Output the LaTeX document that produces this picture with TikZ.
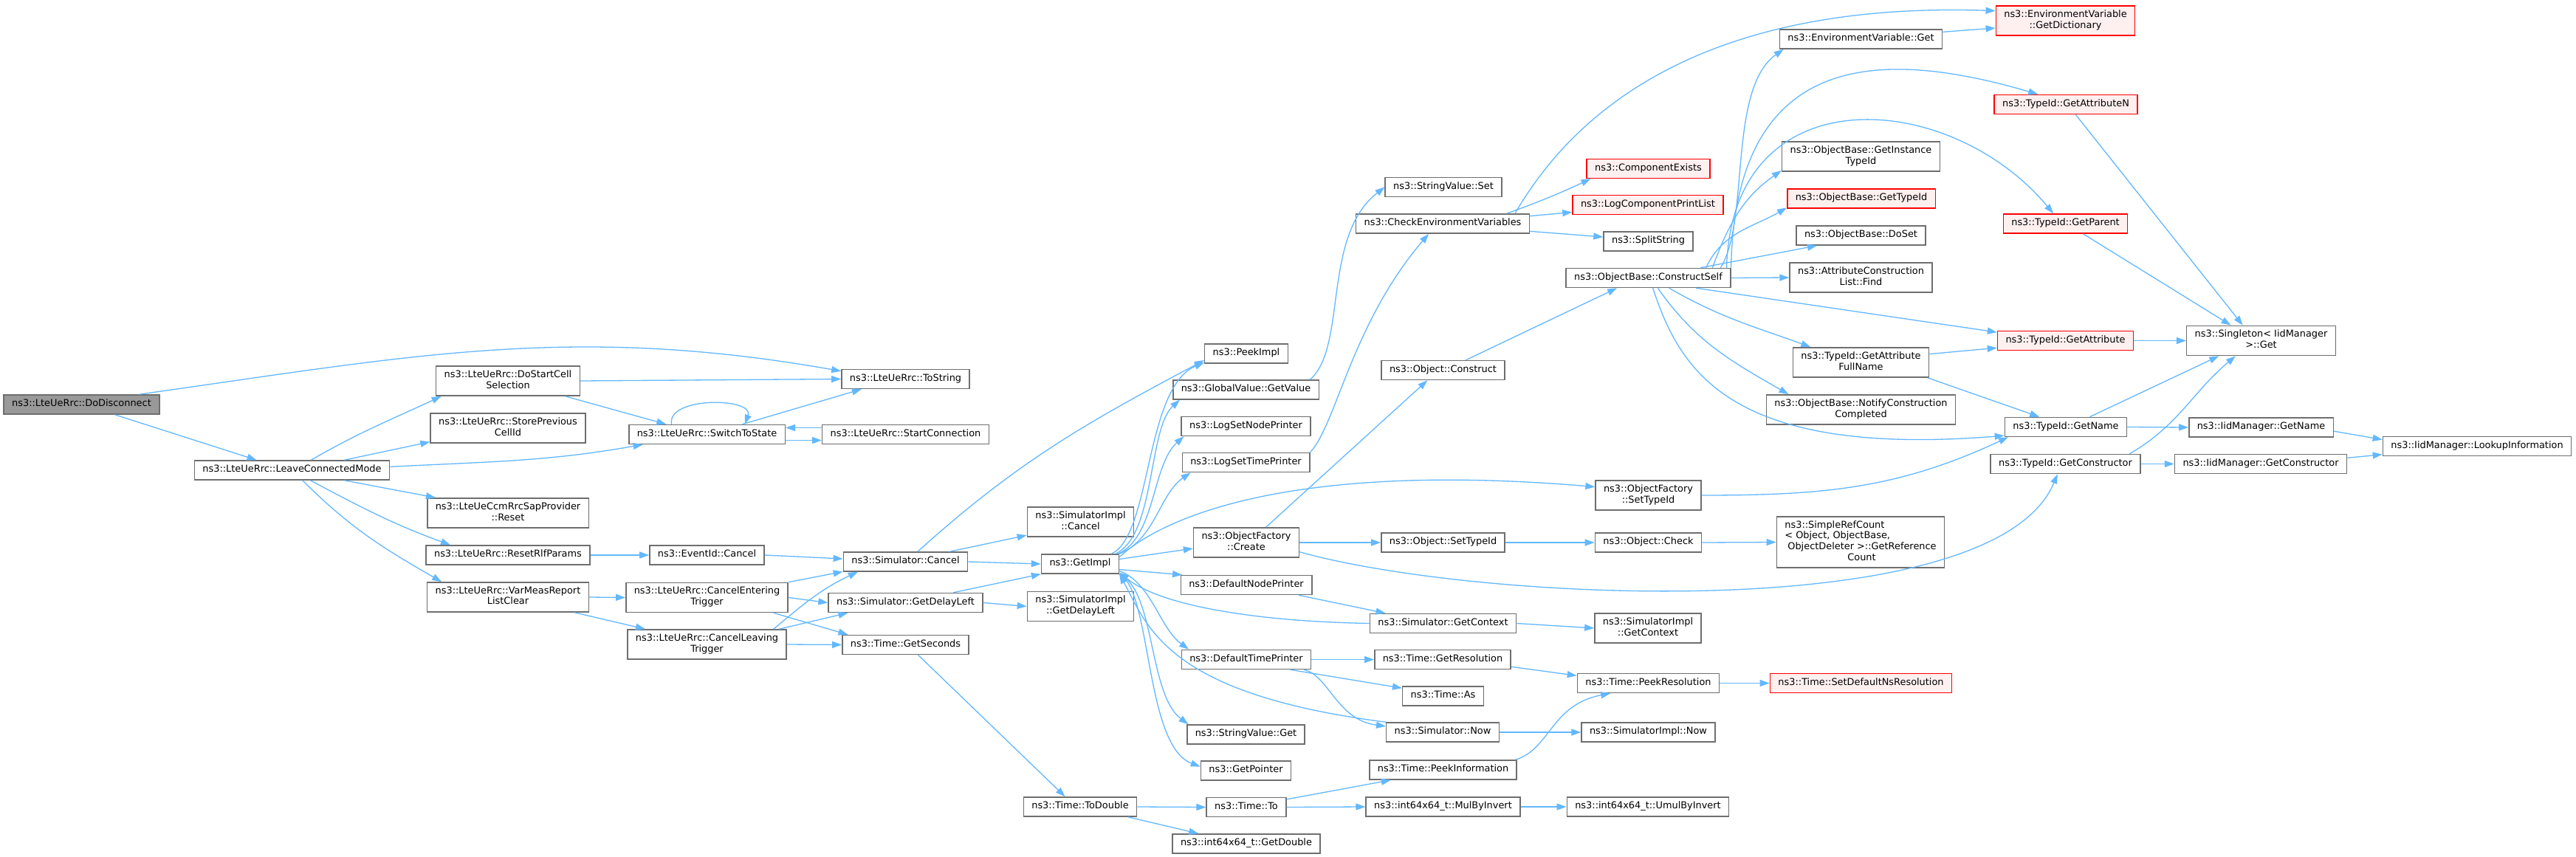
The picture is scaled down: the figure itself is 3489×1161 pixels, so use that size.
\documentclass[tikz,border=0pt]{standalone}
\usepackage{fontspec}
\setmainfont{DejaVu Sans}
\usepackage{xcolor}
\usepackage{tikz}
\usetikzlibrary{arrows.meta}
\usetikzlibrary{positioning, shapes.misc, backgrounds}
\definecolor{edgeblue}{HTML}{63B8FF}
\definecolor{boxgrey}{HTML}{6E6E6E}
\definecolor{rootgrey}{HTML}{999999}
\definecolor{missingfill}{HTML}{FFF0F0}
\tikzset{
fn box/.style = { rectangle, draw = boxgrey, fill = white, line width = 1.5pt, inner xsep = 11pt, inner ysep = 5.7pt, align = center, font = \fontsize{12.9}{14.6}\selectfont, execute at begin node = \strut, execute at end node = \strut },
root box/.style = { fn box, fill = rootgrey },
missing box/.style = { fn box, draw = red, fill = missingfill },
call edge/.style = { draw = edgeblue, line width = 1.3pt, -{Triangle[length = 13pt, width = 9pt]} },
}

\begin{document}
\begin{tikzpicture}[x = 1pt, y = -1pt]
      \path[use as bounding box, fill = white] (0, 0) rectangle (3489, 1161);
      \node[root box] (dodisc) at (110.5, 548) {ns3::LteUeRrc::DoDisconnect};
      \node[fn box] (leave) at (395.5, 637) {ns3::LteUeRrc::LeaveConnectedMode};
      \node[fn box] (startcell) at (688, 516) {ns3::LteUeRrc::DoStartCell\\Selection};
      \node[fn box] (storecell) at (688, 580) {ns3::LteUeRrc::StorePrevious\\CellId};
      \node[fn box] (ccmreset) at (688, 695) {ns3::LteUeCcmRrcSapProvider\\::Reset};
      \node[fn box] (resetrlf) at (688, 752) {ns3::LteUeRrc::ResetRlfParams};
      \node[fn box] (varmeas) at (688, 809) {ns3::LteUeRrc::VarMeasReport\\ListClear};
      \node[fn box] (switchst) at (957.5, 588.5) {ns3::LteUeRrc::SwitchToState};
      \node[fn box] (evcancel) at (957.5, 752) {ns3::EventId::Cancel};
      \node[fn box] (entertrig) at (957.5, 809.5) {ns3::LteUeRrc::CancelEntering\\Trigger};
      \node[fn box] (leavetrig) at (957.5, 873) {ns3::LteUeRrc::CancelLeaving\\Trigger};
      \node[fn box] (tostring) at (1226.5, 513.5) {ns3::LteUeRrc::ToString};
      \node[fn box] (startconn) at (1226.5, 588.5) {ns3::LteUeRrc::StartConnection};
      \node[fn box] (simcancel) at (1226.5, 761) {ns3::Simulator::Cancel};
      \node[fn box] (simdelay) at (1226.5, 816.5) {ns3::Simulator::GetDelayLeft};
      \node[fn box] (getsec) at (1226.5, 873.5) {ns3::Time::GetSeconds};
      \node[fn box] (implcancel) at (1463.5, 707) {ns3::SimulatorImpl\\::Cancel};
      \node[fn box] (getimpl) at (1463, 764) {ns3::GetImpl};
      \node[fn box] (impldelay) at (1463.5, 821.5) {ns3::SimulatorImpl\\::GetDelayLeft};
      \node[fn box] (todouble) at (1463, 1093) {ns3::Time::ToDouble};
      \node[fn box] (peekimpl) at (1688, 479) {ns3::PeekImpl};
      \node[fn box] (getvalue) at (1687.5, 528) {ns3::GlobalValue::GetValue};
      \node[fn box] (nodeprinter) at (1687.5, 577.5) {ns3::LogSetNodePrinter};
      \node[fn box] (timeprinter) at (1687.5, 626.5) {ns3::LogSetTimePrinter};
      \node[fn box] (ofcreate) at (1688, 735) {ns3::ObjectFactory\\::Create};
      \node[fn box] (defnode) at (1688, 792.5) {ns3::DefaultNodePrinter};
      \node[fn box] (deftime) at (1688, 893.5) {ns3::DefaultTimePrinter};
      \node[fn box] (strget) at (1687.5, 995) {ns3::StringValue::Get};
      \node[fn box] (getptr) at (1687.5, 1044) {ns3::GetPointer};
      \node[fn box] (timeto) at (1688, 1093.5) {ns3::Time::To};
      \node[fn box] (getdouble) at (1688, 1143) {ns3::int64x64\_t::GetDouble};
      \node[fn box] (strset) at (1955, 253.5) {ns3::StringValue::Set};
      \node[fn box] (checkenv) at (1954, 303) {ns3::CheckEnvironmentVariables};
      \node[fn box] (objconstruct) at (1954.5, 501.5) {ns3::Object::Construct};
      \node[fn box] (objsettid) at (1954.5, 735) {ns3::Object::SetTypeId};
      \node[fn box] (simctx) at (1954.5, 844.5) {ns3::Simulator::GetContext};
      \node[fn box] (getres) at (1954, 893.5) {ns3::Time::GetResolution};
      \node[fn box] (timeas) at (1954.5, 943) {ns3::Time::As};
      \node[fn box] (simnow) at (1954, 992) {ns3::Simulator::Now};
      \node[fn box] (peekinfo) at (1954.5, 1043) {ns3::Time::PeekInformation};
      \node[fn box] (mulinv) at (1954.5, 1093) {ns3::int64x64\_t::MulByInvert};
      \node[missing box] (compexists) at (2232.5, 228.5) {ns3::ComponentExists};
      \node[missing box] (logprint) at (2232, 277.5) {ns3::LogComponentPrintList};
      \node[fn box] (splitstr) at (2232.5, 327) {ns3::SplitString};
      \node[fn box] (constructself) at (2232.5, 376.5) {ns3::ObjectBase::ConstructSelf};
      \node[fn box] (ofsettid) at (2232.5, 671) {ns3::ObjectFactory\\::SetTypeId};
      \node[fn box] (objcheck) at (2232.5, 735) {ns3::Object::Check};
      \node[fn box] (implctx) at (2232, 851) {ns3::SimulatorImpl\\::GetContext};
      \node[fn box] (peekres) at (2232.5, 925.5) {ns3::Time::PeekResolution};
      \node[fn box] (implnow) at (2232.5, 992) {ns3::SimulatorImpl::Now};
      \node[fn box] (umulinv) at (2232, 1093) {ns3::int64x64\_t::UmulByInvert};
      \node[fn box] (envget) at (2520.5, 53) {ns3::EnvironmentVariable::Get};
      \node[fn box] (instid) at (2520.5, 212) {ns3::ObjectBase::GetInstance\\TypeId};
      \node[missing box] (obtid) at (2521, 269) {ns3::ObjectBase::GetTypeId};
      \node[fn box] (doset) at (2520.5, 319) {ns3::ObjectBase::DoSet};
      \node[fn box] (attrfind) at (2520.5, 376) {ns3::AttributeConstruction\\List::Find};
      \node[fn box] (fullname) at (2520.5, 491) {ns3::TypeId::GetAttribute\\FullName};
      \node[fn box] (notify) at (2520.5, 555) {ns3::ObjectBase::NotifyConstruction\\Completed};
      \node[fn box, align = left] (refcount) at (2520, 734.5) {ns3::SimpleRefCount\\< Object, ObjectBase,\\\hspace*{4pt}ObjectDeleter >::GetReference\\\hspace*{85pt}Count};
      \node[missing box] (setdefres) at (2520.5, 925.5) {ns3::Time::SetDefaultNsResolution};
      \node[missing box] (getdict) at (2797.5, 28) {ns3::EnvironmentVariable\\::GetDictionary};
      \node[missing box] (getattrn) at (2798, 141.5) {ns3::TypeId::GetAttributeN};
      \node[missing box] (getparent) at (2797.5, 303) {ns3::TypeId::GetParent};
      \node[missing box] (getattr) at (2797.5, 461.5) {ns3::TypeId::GetAttribute};
      \node[fn box] (getname) at (2798, 578.5) {ns3::TypeId::GetName};
      \node[fn box] (getctor) at (2797.5, 628.5) {ns3::TypeId::GetConstructor};
      \node[fn box] (singleton) at (3062.5, 461.5) {ns3::Singleton< IidManager\\ >::Get};
      \node[fn box] (iidname) at (3062.5, 579) {ns3::IidManager::GetName};
      \node[fn box] (iidctor) at (3062, 628.5) {ns3::IidManager::GetConstructor};
      \node[fn box] (lookup) at (3355, 604.5) {ns3::IidManager::LookupInformation};

      \draw[call edge] (dodisc.-17) -- (leave.164);
      \draw[call edge] (dodisc.10) to[out = 8, in = 170] (tostring.173);
      \draw[call edge] (leave.28) to[out = 30, in = 205] (startcell.193);
      \draw[call edge] (leave.11) -- (storecell.190);
      \draw[call edge] (leave.2) to[out = 3, in = 190] (switchst.189);
      \draw[call edge] (leave.-11) -- (ccmreset.168);
      \draw[call edge] (leave.-29) to[out = -28, in = 160] (resetrlf.170);
      \draw[call edge] (leave.-44) to[out = -45, in = 150] (varmeas.167);
      \draw[call edge] (startcell.east) -- (tostring.west);
      \draw[call edge] (startcell.-15) -- (switchst.166);
      \draw[call edge] (switchst.164) to[out = 100, in = 70] (switchst.15);
      \draw[call edge] (switchst.16) -- (tostring.193);
      \draw[call edge] ([yshift = -8pt]switchst.east) -- ([yshift = -8pt]startconn.west);
      \draw[call edge] ([yshift = 9pt]startconn.west) -- ([yshift = 9pt]switchst.east);
      \draw[call edge] (resetrlf.east) -- (evcancel.west);
      \draw[call edge] (evcancel.east) -- ([yshift = 4pt]simcancel.west);
      \draw[call edge] (varmeas.east) -- (entertrig.west);
      \draw[call edge] (varmeas.-13) -- (leavetrig.166);
      \draw[call edge] (entertrig.north east) -- (simcancel.189);
      \draw[call edge] (entertrig.east) -- (simdelay.west);
      \draw[call edge] (entertrig.-13) -- (getsec.170);
      \draw[call edge] (leavetrig.13) to[out = 40, in = 205] (simcancel.192);
      \draw[call edge] (leavetrig.12) -- (simdelay.190);
      \draw[call edge] (leavetrig.east) -- (getsec.west);
      \draw[call edge] (simcancel.40) to[out = 42, in = 208] (peekimpl.189);
      \draw[call edge] (simcancel.13) -- (implcancel.194);
      \draw[call edge] (simcancel.east) -- (getimpl.west);
      \draw[call edge] (simdelay.12) -- (getimpl.south west);
      \draw[call edge] (simdelay.east) -- (impldelay.west);
      \draw[call edge] (getsec.-39) -- (todouble.146);
      \draw[call edge] (todouble.east) -- (timeto.west);
      \draw[call edge] (todouble.-12) -- (getdouble.168);
      % GetImpl and what it reaches
      \draw[call edge] (getimpl.18) .. controls (1560, 725) and (1550, 525) .. (peekimpl.192);
      \draw[call edge] (getimpl.16) .. controls (1565, 725) and (1555, 580) .. ([xshift = 10pt]getvalue.south west);
      \draw[call edge] (getimpl.15) .. controls (1565, 728) and (1560, 630) .. ([xshift = 4pt]nodeprinter.south west);
      \draw[call edge] (getimpl.north east) .. controls (1565, 730) and (1570, 670) .. ([xshift = 12pt]timeprinter.south west);
      \draw[call edge] (getimpl.10) .. controls (1575, 700) and (1750, 625) .. (ofsettid.171);
      \draw[call edge] (getimpl.7) -- ([yshift = -8pt]ofcreate.west);
      \draw[call edge] (getimpl.-8) -- (defnode.171);
      \draw[call edge] (getimpl.-10) .. controls (1560, 790) and (1570, 850) .. (deftime.170);
      \draw[call edge] (getimpl.south east) .. controls (1565, 800) and (1555, 940) .. (strget.170);
      \draw[call edge] (getimpl.south east) .. controls (1560, 800) and (1550, 1010) .. (getptr.175);
      \draw[call edge] (simctx.west) .. controls (1700, 842) and (1570, 820) .. (getimpl.-12);
      \draw[call edge] (simnow.north west) .. controls (1580, 940) and (1555, 850) .. (getimpl.south east);
      \draw[call edge] (defnode.-11) -- (simctx.170);
      \draw[call edge] (deftime.east) -- (getres.west);
      \draw[call edge] (deftime.-13) -- (timeas.169);
      \draw[call edge] (deftime.-10) .. controls (1800, 915) and (1810, 975) .. (simnow.174);
      \draw[call edge] (simctx.east) -- (implctx.west);
      \draw[call edge] (getres.-6) -- (peekres.174);
      \draw[call edge] (peekres.east) -- (setdefres.west);
      \draw[call edge] (simnow.east) -- (implnow.west);
      \draw[call edge] (peekinfo.8) .. controls (2100, 1015) and (2100, 955) .. (peekres.195);
      \draw[call edge] (mulinv.east) -- (umulinv.west);
      \draw[call edge] (timeto.11) -- (peekinfo.191);
      \draw[call edge] (timeto.east) -- (mulinv.west);
      \draw[call edge] (getvalue.9) .. controls (1825, 470) and (1790, 320) .. (strset.west);
      \draw[call edge] (timeprinter.north east) .. controls (1810, 575) and (1830, 440) .. (checkenv.216);
      \draw[call edge] (ofcreate.38) -- (objconstruct.213);
      \draw[call edge] (ofcreate.east) -- (objsettid.west);
      \draw[call edge] (ofcreate.-10) .. controls (2000, 815) and (2700, 850) .. (getctor.232);
      \draw[call edge] (objconstruct.24) -- (constructself.198);
      \draw[call edge] (objsettid.east) -- (objcheck.west);
      \draw[call edge] (objcheck.east) -- (refcount.west);
      \draw[call edge] (ofsettid.east) to[out = 0, in = 205] (getname.190);
      \draw[call edge] (checkenv.8) .. controls (2110, 190) and (2260, 0) .. (getdict.172);
      \draw[call edge] (checkenv.9) to[out = 20, in = 205] (compexists.190);
      \draw[call edge] (checkenv.5) -- ([yshift = -10pt]logprint.west);
      \draw[call edge] (checkenv.-5) -- ([yshift = 6pt]splitstr.west);
      % ConstructSelf fans out
      \draw[call edge] (constructself.8) .. controls (2370, 300) and (2340, 120) .. ([xshift = 6pt]envget.south west);
      \draw[call edge] (constructself.7) .. controls (2350, 80) and (2530, 60) .. (getattrn.160);
      \draw[call edge] ([xshift = -6pt]constructself.north east) .. controls (2345, 100) and (2640, 120) .. (getparent.140);
      \draw[call edge] (constructself.9) to[out = 70, in = 215] (instid.190);
      \draw[call edge] (constructself.10) to[out = 65, in = 210] (obtid.187);
      \draw[call edge] (constructself.11) -- (doset.193);
      \draw[call edge] (constructself.east) -- (attrfind.west);
      \draw[call edge] (constructself.-12) -- (getattr.173);
      \draw[call edge] (constructself.-26) to[out = -30, in = 160] (fullname.163);
      \draw[call edge] (constructself.-47) to[out = -55, in = 150] (notify.168);
      \draw[call edge] (constructself.-66) .. controls (2275, 500) and (2340, 620) .. (getname.188);
      \draw[call edge] (fullname.7) -- (getattr.186);
      \draw[call edge] (fullname.-13) -- (getname.159);
      \draw[call edge] (envget.5) -- (getdict.186);
      \draw[call edge] (getattrn.-46) -- (singleton.140);
      \draw[call edge] (getparent.-30) -- (singleton.153);
      \draw[call edge] (getattr.east) -- (singleton.west);
      \draw[call edge] (getname.23) -- (singleton.200);
      \draw[call edge] (getname.east) -- (iidname.west);
      \draw[call edge] (getctor.9) to[out = 30, in = 220] (singleton.211);
      \draw[call edge] (getctor.east) -- (iidctor.west);
      \draw[call edge] (iidname.-3) -- (lookup.176);
      \draw[call edge] (iidctor.4) -- (lookup.185);
\end{tikzpicture}
\end{document}
